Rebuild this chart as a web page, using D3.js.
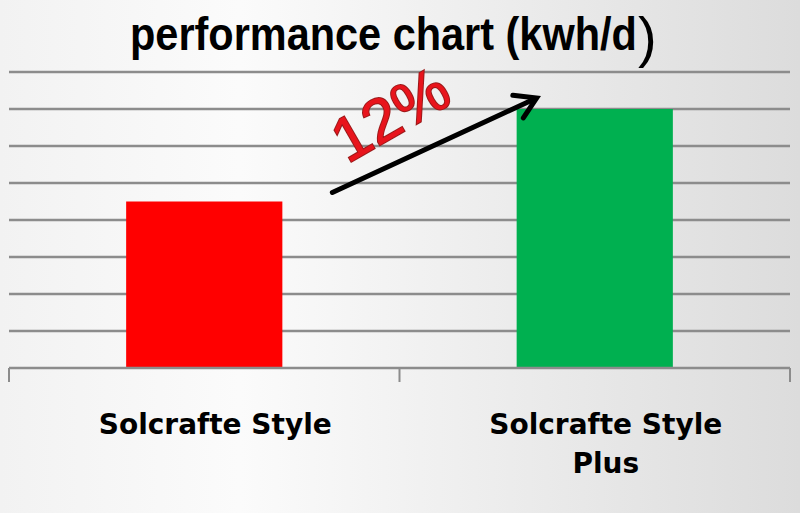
<!DOCTYPE html>
<html>
<head>
<meta charset="utf-8">
<script src="https://cdn.jsdelivr.net/npm/d3@7"></script>
<style>
    html, body { margin: 0; padding: 0; }
    #canvas-div { width: 800px; height: 513px; }
</style>
</head>
<body>
<div id="canvas-div"></div>
<script>
// chart data
const categories = ["Solcrafte Style", "Solcrafte Style Plus"];
const labelLines = [["Solcrafte Style"], ["Solcrafte Style", "Plus"]];
const values = [4.5, 7];
const barColors = ["#ff0000", "#00b050"];
const gridTicks = [1, 2, 3, 4, 5, 6, 7, 8];
const titleText = "performance chart (kwh/d";
const growthLabel = "12%";

const svgWidth = 800;
const svgHeight = 513;
const padding = { left: 9, right: 10, top: 72, bottom: 146 };

const svg = d3.select("#canvas-div")
    .append("svg")
    .attr("width", svgWidth)
    .attr("height", svgHeight);

// background gradient
const defs = svg.append("defs");
const grad = defs.append("linearGradient")
    .attr("id", "bg")
    .attr("x1", "0").attr("y1", "0")
    .attr("x2", "1").attr("y2", "0");
grad.append("stop").attr("offset", "0").attr("stop-color", "#f2f2f2");
grad.append("stop").attr("offset", "0.3").attr("stop-color", "#fbfbfb");
grad.append("stop").attr("offset", "1").attr("stop-color", "#dcdcdc");

svg.append("rect")
    .attr("width", svgWidth)
    .attr("height", svgHeight)
    .attr("fill", "url(#bg)");

// scales
const xScale = d3.scaleBand()
    .domain(categories)
    .range([padding.left, svgWidth - padding.right])
    .paddingInner(0.6)
    .paddingOuter(0.3);

const baseY = svgHeight - padding.bottom + 1;
const yScale = d3.scaleLinear()
    .domain([0, 8])
    .range([baseY, padding.top]);

// grid lines
svg.selectAll(".grid")
    .data(gridTicks)
    .enter()
    .append("line")
    .attr("class", "grid")
    .attr("x1", padding.left)
    .attr("x2", svgWidth - padding.right)
    .attr("y1", d => yScale(d))
    .attr("y2", d => yScale(d))
    .attr("stroke", "#8c8c8c")
    .attr("stroke-width", 2.5);

// bars
svg.selectAll(".bar")
    .data(values)
    .enter()
    .append("rect")
    .attr("class", "bar")
    .attr("x", (d, i) => xScale(categories[i]))
    .attr("y", d => yScale(d))
    .attr("width", xScale.bandwidth())
    .attr("height", d => yScale(0) - yScale(d))
    .attr("fill", (d, i) => barColors[i]);

// x axis: baseline and ticks on category boundaries
const step = xScale.step();
const tickXs = d3.range(categories.length + 1).map(i => padding.left + i * step);

svg.append("line")
    .attr("x1", padding.left)
    .attr("x2", svgWidth - padding.right)
    .attr("y1", yScale(0))
    .attr("y2", yScale(0))
    .attr("stroke", "#8c8c8c")
    .attr("stroke-width", 2.5);

svg.selectAll(".x-tick")
    .data(tickXs)
    .enter()
    .append("line")
    .attr("class", "x-tick")
    .attr("x1", d => d)
    .attr("x2", d => d)
    .attr("y1", yScale(0))
    .attr("y2", yScale(0) + 14)
    .attr("stroke", "#8c8c8c")
    .attr("stroke-width", 2);

// category labels
const labels = svg.selectAll(".cat-label")
    .data(categories)
    .enter()
    .append("text")
    .attr("class", "cat-label")
    .attr("text-anchor", "middle")
    .attr("font-family", "DejaVu Sans, Verdana, sans-serif")
    .attr("font-weight", "bold")
    .attr("font-size", 28)
    .attr("fill", "#000");

labels.each(function(d, i) {
    const cx = xScale(d) + xScale.bandwidth() / 2 + 11;
    d3.select(this).selectAll("tspan")
        .data(labelLines[i])
        .enter()
        .append("tspan")
        .attr("x", cx)
        .attr("y", (t, j) => 434 + j * 39)
        .text(t => t);
});

// title: narrowed with a horizontal scale so it fits in front of the big bracket
const title = svg.append("text")
    .attr("font-family", "Liberation Sans, Arial, sans-serif")
    .attr("font-weight", "bold")
    .attr("font-size", 46)
    .attr("fill", "#000")
    .text(titleText);

const titleWidth = title.node().getComputedTextLength();
title.attr("transform", "translate(130,50) scale(" + (507 / titleWidth) + ",1)");

svg.append("text")
    .attr("x", 638)
    .attr("y", 56)
    .attr("font-family", "Liberation Sans, Arial, sans-serif")
    .attr("font-size", 56)
    .attr("fill", "#000")
    .text(")");

// growth arrow from red bar to green bar
const arrowStart = [xScale(categories[0]) + xScale.bandwidth() + 50, yScale(values[0]) - 9];
const arrowEnd = [xScale(categories[1]) + 20, yScale(values[1]) - 11];
const ang = Math.atan2(arrowEnd[1] - arrowStart[1], arrowEnd[0] - arrowStart[0]);
const headLen = 24;
const headSpread = 0.55;

svg.append("line")
    .attr("x1", arrowStart[0])
    .attr("y1", arrowStart[1])
    .attr("x2", arrowEnd[0] - 3 * Math.cos(ang))
    .attr("y2", arrowEnd[1] - 3 * Math.sin(ang))
    .attr("stroke", "#000")
    .attr("stroke-width", 5)
    .attr("stroke-linecap", "round");

svg.append("path")
    .attr("d", d3.line()([
        [arrowEnd[0] - headLen * Math.cos(ang - headSpread), arrowEnd[1] - headLen * Math.sin(ang - headSpread)],
        arrowEnd,
        [arrowEnd[0] - headLen * Math.cos(ang + headSpread), arrowEnd[1] - headLen * Math.sin(ang + headSpread)]
    ]))
    .attr("fill", "none")
    .attr("stroke", "#000")
    .attr("stroke-width", 5)
    .attr("stroke-linecap", "round")
    .attr("stroke-linejoin", "miter");

// growth label
svg.append("text")
    .attr("text-anchor", "middle")
    .attr("transform", "translate(401,133) rotate(-30)")
    .attr("font-family", "Liberation Sans, Arial, sans-serif")
    .attr("font-size", 62)
    .attr("fill", "#e8141c")
    .attr("stroke", "#9a1a1a")
    .attr("stroke-width", 2)
    .attr("paint-order", "stroke")
    .text(growthLabel);
</script>
</body>
</html>
